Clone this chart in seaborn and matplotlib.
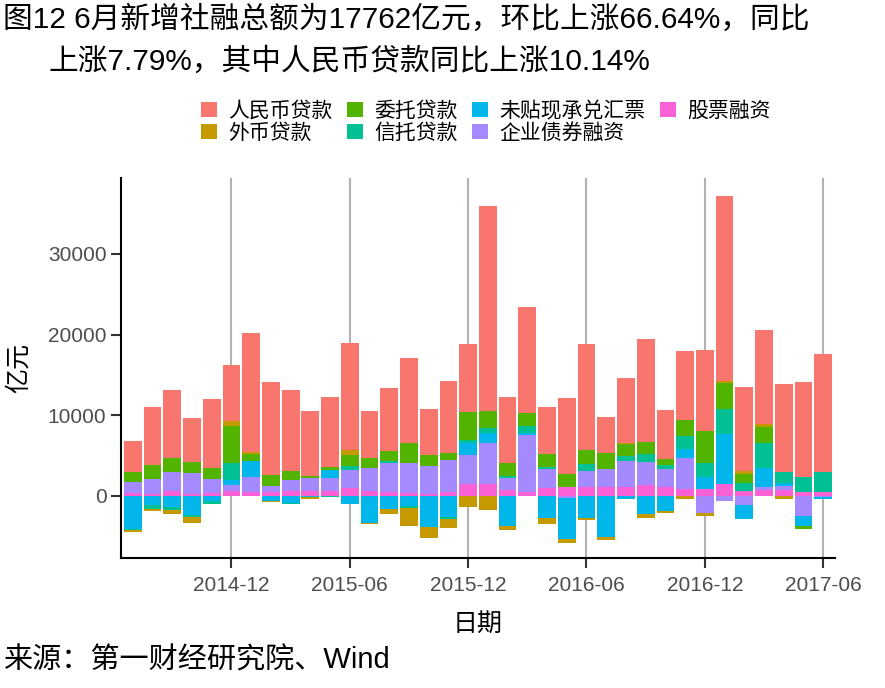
import matplotlib
matplotlib.use("Agg")
import numpy as np
import pandas as pd
import matplotlib.pyplot as plt
from matplotlib.patches import Patch
import seaborn as sns

# months 2014-07 .. 2017-06
months = pd.period_range("2014-07", "2017-06", freq="M").strftime("%Y-%m").tolist()
tick_labels = ["2014-12", "2015-06", "2015-12", "2016-06", "2016-12", "2017-06"]

series_names = ["人民币贷款", "外币贷款", "委托贷款", "信托贷款",
                "未贴现承兑汇票", "企业债券融资", "股票融资"]
colors = ["#F8766D", "#C49A00", "#53B400", "#00C094", "#00B6EB", "#A58AFF", "#FB61D7"]

# 亿元
rmb = [3860, 7100, 8420, 5480, 8470, 6970, 14690, 11450, 9960, 8090, 8590, 13200,
       5850, 7720, 10460, 5600, 8840, 8340, 25400, 8090, 13200, 5730, 9340, 13070,
       4480, 7970, 12700, 5980, 8470, 9960, 23030, 10330, 11580, 10830, 11700, 14570]
fx = [-200, -290, -460, -750, 0, 500, 250, -125, 0, -250, 0, 620,
      -125, -620, -2240, -1370, -1120, -1330, -1700, -500, 0, -750, -500, -250,
      -370, 125, -460, -250, -330, -370, 250, 370, 370, -330, 0, 0]
entrust = [1245, 1740, 1660, 1370, 1370, 4610, 870, 1370, 1120, 250, 370, 1370,
           1245, 1245, 2490, 1370, 870, 3490, 2120, 1620, 1620, 1620, 1620, 1740,
           1990, 1490, 1490, 750, 1990, 3980, 3110, 1120, 1990, 0, -330, 0]
trust = [-200, -500, -370, -250, -330, 2120, 0, 0, -125, 0, -200, 500,
         0, 250, -250, 0, -250, 370, 620, 250, 750, 250, 0, 870,
         0, 620, 1000, 500, 1620, 1740, 3110, 1000, 3110, 1370, 1870, 2490]
bill = [-4070, -1080, -1370, -2320, -620, 620, 1990, -580, -830, -80, 1000, -950,
        -3320, -1580, -1200, -3820, -2570, 1490, 1245, -3690, 250, -2700, -5060, -2700,
        -5060, -330, -2240, -1830, 1120, 1490, 6220, -1740, 2370, 370, -1245, -250]
bond = [1330, 1870, 2370, 2610, 1740, 750, 1870, 750, 1370, 1620, 1620, 2240,
        2860, 3610, 3740, 3490, 3980, 3610, 5100, 1490, 7100, 2370, -250, 1990,
        2240, 3240, 2860, 2240, 3860, -2080, -580, -1080, 370, 500, -2490, -80]
equity = [415, 250, 620, 250, 370, 620, 500, 500, 620, 620, 620, 1000,
          620, 500, 370, 250, 500, 1490, 1490, 750, 500, 1000, 1120, 1120,
          1120, 1120, 1370, 1120, 870, 870, 1490, 620, 750, 750, 500, 500]

df = pd.DataFrame(dict(zip(series_names, [rmb, fx, entrust, trust, bill, bond, equity])),
                  index=months)

plt.rcParams["font.family"] = ["Noto Sans CJK SC", "DejaVu Sans"]
mixed = ["Liberation Sans", "Noto Sans CJK SC"]  # latin in Arial, CJK falls through

fig = plt.figure(figsize=(8.85, 6.88), dpi=100)
ax = fig.add_axes([121 / 885, 1 - 558 / 688, (835 - 121) / 885, (558 - 178) / 688])

# stack like ggplot: last level sits next to zero
stack_order = series_names[::-1]
pos = df[stack_order].clip(lower=0).cumsum(axis=1)
neg = df[stack_order].clip(upper=0).cumsum(axis=1)
for name, c in zip(series_names, colors):
    sns.barplot(x=months, y=pos[name].values, color=c, saturation=1, width=0.9,
                linewidth=0, errorbar=None, ax=ax)
    sns.barplot(x=months, y=neg[name].values, color=c, saturation=1, width=0.9,
                linewidth=0, errorbar=None, ax=ax)

ax.set_xlim(-0.6, len(months) - 0.4)
ax.set_ylim(-7700, 39400)
ax.set_yticks([0, 10000, 20000, 30000])
ax.set_xticks([months.index(t) for t in tick_labels])
ax.set_xticklabels(tick_labels)

for s in ["top", "right"]:
    ax.spines[s].set_visible(False)
for s in ["left", "bottom"]:
    ax.spines[s].set_color("black")
    ax.spines[s].set_linewidth(1.5)
ax.tick_params(length=7, width=1.5, color="#333333", labelcolor="#4D4D4D", labelsize=15)
ax.tick_params(axis="x", pad=6)
for lab in ax.get_xticklabels() + ax.get_yticklabels():
    lab.set_family("Liberation Sans")

ax.xaxis.grid(True, color="#B3B3B3", linewidth=1.5)
ax.yaxis.grid(False)
ax.set_axisbelow(True)

ax.set_xlabel("日期", fontsize=18)
ax.set_ylabel("亿元", fontsize=18)
ax.xaxis.set_label_coords(0.5, -0.14)
ax.yaxis.set_label_coords(-0.125, 0.5)

fig.text(3 / 885, 1 - 6 / 688, "图12 6月新增社融总额为17762亿元，环比上涨66.64%，同比",
         fontsize=21.4, va="top", ha="left", family=mixed)
fig.text(48 / 885, 1 - 47 / 688, "上涨7.79%，其中人民币贷款同比上涨10.14%",
         fontsize=21.4, va="top", ha="left", family=mixed)
fig.text(3 / 885, 1 - 661 / 688, "来源：第一财经研究院、Wind",
         fontsize=21, va="center", ha="left", family=mixed)

handles = [Patch(facecolor=c, edgecolor="none") for c in colors]
fig.legend(handles, series_names, ncol=4, loc="upper left",
           bbox_to_anchor=(201 / 885, 1 - 100 / 688), frameon=False, fontsize=15,
           handlelength=0.75, handleheight=0.75, handletextpad=0.55, columnspacing=0.7,
           labelspacing=0.0, borderaxespad=0, borderpad=0)

fig.savefig("out.png", dpi=100)
